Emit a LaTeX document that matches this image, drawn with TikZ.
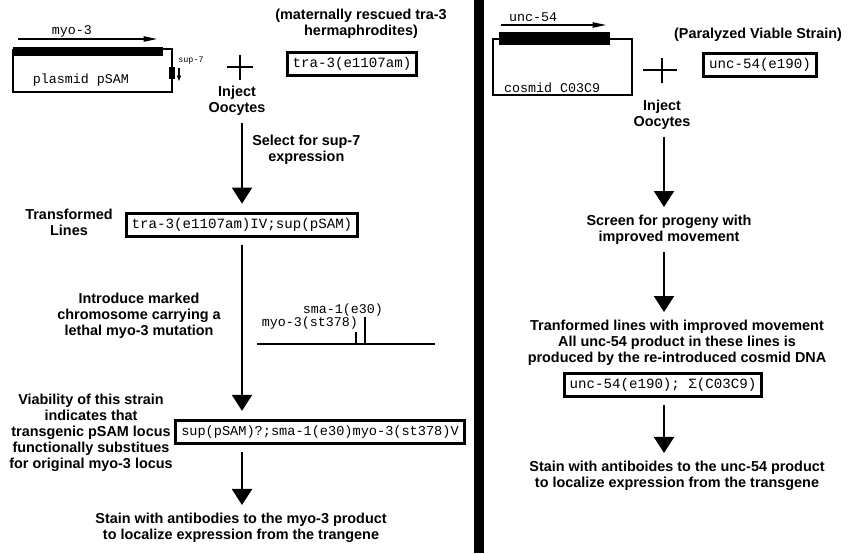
\documentclass[tikz,border=0pt]{standalone}
\usepackage{fontspec}
\setmainfont{Liberation Sans}
\setmonofont{Liberation Mono}
\usetikzlibrary{arrows.meta}

\begin{document}
\begin{tikzpicture}[
  x=0.75pt, y=-0.75pt,
  every node/.style={font=\fontsize{10.8}{12}\selectfont\bfseries, align=center, inner sep=0pt},
  genebox/.style={draw, line width=2.2pt, font=\fontsize{10.6}{12}\selectfont\ttfamily,
                  inner xsep=4pt, inner ysep=4pt},
  seqlbl/.style={font=\fontsize{10}{11}\selectfont\ttfamily},
  flow/.style={line width=1.5pt, -{Triangle[length=12pt,width=15pt]},
               shorten <=5pt, shorten >=6pt},
  vect/.style={line width=1.1pt},
  plussign/.style={line width=1.6pt},
]
  \useasboundingbox (0,0) rectangle (848,553);

  % Divider
  \draw[line width=7pt] (479,0) -- (479,553);

  % Left: plasmid pSAM
  \fill (13,47) rectangle (163,56);
  \draw[vect] (163,49) -- (172,49) -- (172,92) -- (13,92) -- (13,49);
  \fill (169,67) rectangle (175,79);
  \draw[line width=0.8pt,-{Triangle[length=4pt,width=3pt]}] (179,68) -- (179,81);
  \draw[line width=0.8pt,-{Triangle[length=10pt,width=4pt]}] (18,39) -- (157,39);
  \node[seqlbl] (myoL) at (72,31) {myo-3};
  \node[font=\fontsize{6.3}{7}\selectfont\ttfamily] (supL) at (191,61) {sup-7};
  \node[seqlbl] (pSAM) at (81,80) {plasmid pSAM};

  \draw[plussign] (227,67) -- (253,67) (240,55) -- (240,80);
  \node (injL) at (237,101) {Inject\\Oocytes};
  \node (matL) at (361,24) {(maternally rescued tra-3\\hermaphrodites)};
  \node[genebox] (traL) at (352,64) {tra-3(e1107am)};

  % Left: transformed lines
  \coordinate (colL) at (242,0);
  \node[anchor=west] (selL) at (252,150) {Select for sup-7\\expression};
  \node (tfL) at (69,222) {Transformed\\Lines};
  \node[genebox] (tlbox) at (242,225) {tra-3(e1107am)IV;sup(pSAM)};

  % Left: marked chromosome
  \node (intL) at (139,316) {Introduce marked\\chromosome carrying a\\lethal myo-3 mutation};
  \draw[line width=1.5pt] (257,344) -- (435,344);
  \draw[line width=1.5pt] (356,332) -- (356,344) (365,317) -- (365,344);
  \node[seqlbl] (smaL) at (343,310) {sma-1(e30)};
  \node[seqlbl] (myostL) at (310,323) {myo-3(st378)};

  \node (viaL) at (91,433) {Viability of this strain\\indicates that\\transgenic pSAM locus\\
    functionally substitues\\for original myo-3 locus};
  \node[genebox, font=\fontsize{10.2}{12}\selectfont\ttfamily] (vbox) at (320,432)
    {sup(pSAM)?;sma-1(e30)myo-3(st378)V};
  \node (stainL) at (241,528) {Stain with antibodies to the myo-3 product\\
    to localize expression from the trangene};

  \draw[flow] (injL.south -| colL) -- (tlbox.north -| colL);
  \draw[flow] (tlbox.south -| colL) -- (vbox.north -| colL);
  \draw[flow] (vbox.south -| colL) -- (stainL.north -| colL);

  % Right: cosmid C03C9
  \fill (499,32) rectangle (610,45);
  \draw[vect] (610,39) -- (632,39) -- (632,95) -- (493,95) -- (493,39) -- (499,39);
  \draw[line width=0.8pt,-{Triangle[length=10pt,width=4pt]}] (501,25) -- (606,25);
  \node[seqlbl] (uncR) at (533,17) {unc-54};
  \node[seqlbl] (cosR) at (552,88) {cosmid C03C9};

  \draw[plussign] (643,70) -- (677,70) (662,58) -- (662,83);
  \node (parR) at (758,35) {(Paralyzed Viable Strain)};
  \node[genebox] (uncbox) at (760,65) {unc-54(e190)};
  \node (injR) at (662,115) {Inject\\Oocytes};

  % Right: screening
  \coordinate (colR) at (664,0);
  \node (scrR) at (669,230) {Screen for progeny with\\improved movement};
  \node (trR) at (677,343) {Tranformed lines with improved movement\\
    All unc-54 product in these lines is\\produced by the re-introduced cosmid DNA};
  \node[genebox] (ubox) at (663,385) {unc-54(e190); Σ(C03C9)};
  \node (stainR) at (677,476) {Stain with antiboides to the unc-54 product\\
    to localize expression from the transgene};

  \draw[flow] (injR.south -| colR) -- (scrR.north -| colR);
  \draw[flow] (scrR.south -| colR) -- (trR.north -| colR);
  \draw[flow] (ubox.south -| colR) -- (stainR.north -| colR);
\end{tikzpicture}
\end{document}
